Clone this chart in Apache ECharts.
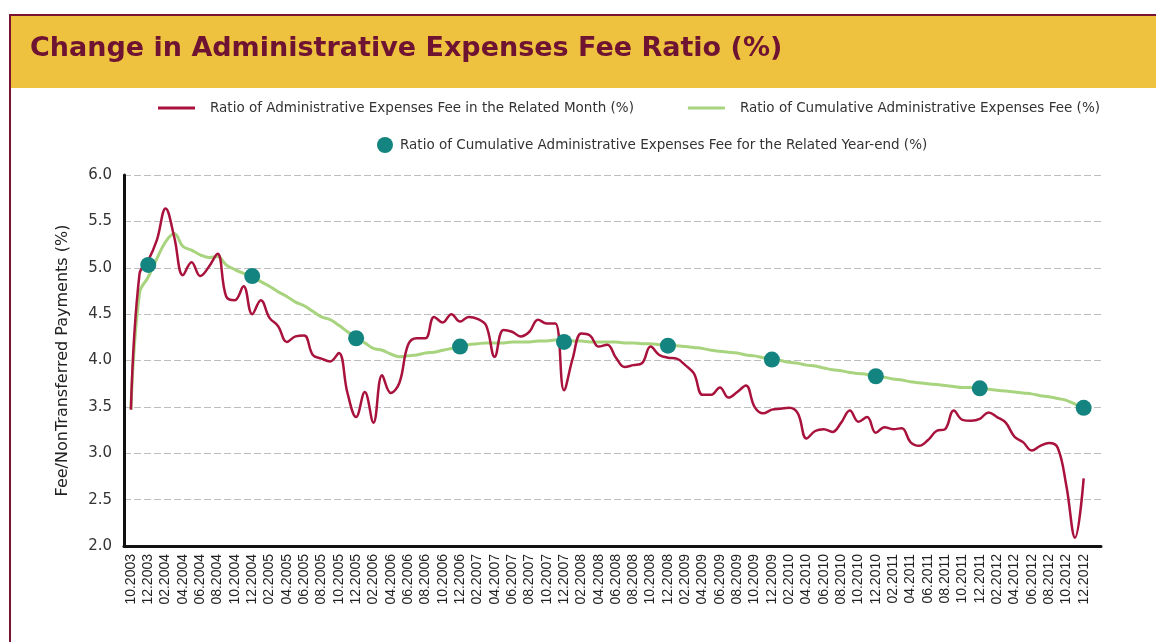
<!DOCTYPE html>
<html>
<head>
<meta charset="utf-8">
<script src="https://cdn.jsdelivr.net/npm/echarts@6/dist/echarts.min.js"></script>
<style>
html, body { margin: 0; padding: 0; background: #fff; }
#chart { width: 1156px; height: 642px; }
</style>
</head>
<body>
<div id="chart"></div>
<script>
// monthly values 10.2003 .. 12.2012
const monthlyRatio = [
  3.47, 4.94, 5.08, 5.30, 5.64, 5.33, 4.92, 5.06, 4.91, 5.01,
  5.15, 4.69, 4.65, 4.80, 4.50, 4.65, 4.46, 4.37, 4.20, 4.26,
  4.27, 4.06, 4.02, 3.99, 4.08, 3.65, 3.39, 3.66, 3.33, 3.84,
  3.65, 3.76, 4.17, 4.24, 4.24, 4.47, 4.41, 4.50, 4.42, 4.47,
  4.45, 4.38, 4.04, 4.33, 4.31, 4.26, 4.31, 4.44, 4.40, 4.40,
  3.68, 4.02, 4.29, 4.27, 4.15, 4.17, 4.03, 3.93, 3.95, 3.97,
  4.15, 4.06, 4.03, 4.02, 3.95, 3.86, 3.63, 3.63, 3.71, 3.60,
  3.66, 3.73, 3.50, 3.43, 3.47, 3.48, 3.49, 3.43, 3.16, 3.24,
  3.26, 3.23, 3.33, 3.46, 3.34, 3.39, 3.22, 3.28, 3.26, 3.27,
  3.12, 3.08, 3.14, 3.24, 3.26, 3.46, 3.36, 3.35, 3.37, 3.44,
  3.39, 3.33, 3.18, 3.12, 3.03, 3.08, 3.11, 3.06, 2.65, 2.09,
  2.73
]
const cumulativeRatio = [
  3.47, 4.73, 4.90, 5.10, 5.28, 5.37, 5.23, 5.19, 5.14, 5.11,
  5.12, 5.03, 4.98, 4.94, 4.90, 4.85, 4.80, 4.74, 4.69, 4.63,
  4.59, 4.53, 4.47, 4.44, 4.38, 4.31, 4.24, 4.19, 4.13, 4.11,
  4.07, 4.04, 4.05, 4.06, 4.08, 4.09, 4.11, 4.13, 4.15, 4.17,
  4.18, 4.19, 4.19, 4.19, 4.20, 4.20, 4.20, 4.21, 4.21, 4.22,
  4.22, 4.21, 4.21, 4.20, 4.20, 4.20, 4.20, 4.19, 4.19, 4.18,
  4.18, 4.17, 4.16, 4.16, 4.15, 4.14, 4.13, 4.11, 4.10, 4.09,
  4.08, 4.06, 4.05, 4.03, 4.02, 4.00, 3.98, 3.97, 3.95, 3.94,
  3.92, 3.90, 3.89, 3.87, 3.86, 3.85, 3.83, 3.82, 3.80, 3.79,
  3.77, 3.76, 3.75, 3.74, 3.73, 3.72, 3.71, 3.71, 3.70, 3.69,
  3.68, 3.67, 3.66, 3.65, 3.64, 3.62, 3.61, 3.59, 3.57, 3.53,
  3.49
]
// year-end points (12.2003 .. 12.2012)
const yearEndIndex = [2, 14, 26, 38, 50, 62, 74, 86, 98, 110]
const yearEndRatio = [5.03, 4.91, 4.24, 4.15, 4.20, 4.16, 4.01, 3.83, 3.70, 3.49]

const months = []
for (let i = 0; i < monthlyRatio.length; i++) {
  let m = (9 + i) % 12 + 1
  let y = 2003 + Math.floor((9 + i) / 12)
  months.push((m < 10 ? '0' : '') + m + '.' + y)
}
const labelIndex = months.map((m, i) => i).filter(i => i % 2 === 0)

const names = [
  'Ratio of Administrative Expenses Fee in the Related Month (%)',
  'Ratio of Cumulative Administrative Expenses Fee (%)',
  'Ratio of Cumulative Administrative Expenses Fee for the Related Year-end (%)'
]

const font = 'DejaVu Sans'

let myChart = echarts.init(document.getElementById('chart'))
let option = {
  animation: false,
  title: {
    text: 'Change in Administrative Expenses Fee Ratio (%)',
    left: 30,
    top: 35,
    padding: 0,
    textStyle: {
      fontFamily: font,
      fontWeight: 'bold',
      fontSize: 27,
      color: '#6E1432'
    }
  },
  graphic: [
    { type: 'rect', shape: { x: 10, y: 16, width: 1146, height: 72 }, style: { fill: '#EEC13E' }, z: -10 },
    { type: 'rect', shape: { x: 9, y: 14, width: 1147, height: 2 }, style: { fill: '#7A1232' } },
    { type: 'rect', shape: { x: 9, y: 14, width: 2, height: 628 }, style: { fill: '#7A1232' } }
  ],
  legend: [
    {
      data: [{ name: names[0], icon: 'rect' }, { name: names[1], icon: 'rect' }],
      left: 158,
      top: 101,
      padding: 0,
      itemWidth: 37,
      itemHeight: 3,
      itemGap: 54,
      textStyle: { fontFamily: font, fontSize: 13.5, color: '#333', padding: [0, 0, 0, 10] }
    },
    {
      data: [names[2]],
      left: 377,
      top: 137,
      padding: 0,
      icon: 'circle',
      itemWidth: 16,
      itemHeight: 16,
      textStyle: { fontFamily: font, fontSize: 13.5, color: '#333', padding: [0, 0, 0, 2] }
    }
  ],
  grid: {
    left: 124,
    right: 55,
    top: 175,
    bottom: 96
  },
  xAxis: {
    type: 'value',
    min: -0.8,
    max: 112,
    axisLine: { show: true, onZero: false, lineStyle: { color: '#111', width: 3 } },
    axisTick: { show: false },
    splitLine: { show: false },
    axisLabel: {
      customValues: labelIndex,
      formatter: v => months[v],
      rotate: 90,
      margin: 8,
      fontFamily: 'Liberation Sans',
      fontSize: 14,
      color: '#222'
    }
  },
  yAxis: {
    type: 'value',
    min: 2,
    max: 6,
    interval: 0.5,
    name: 'Fee/NonTransferred Payments (%)',
    nameLocation: 'middle',
    nameGap: 53,
    nameTextStyle: { fontFamily: font, fontSize: 16, color: '#222' },
    axisLine: { show: true, onZero: false, lineStyle: { color: '#111', width: 3 } },
    axisTick: { show: false },
    axisLabel: {
      formatter: v => v.toFixed(1),
      margin: 12,
      fontFamily: font,
      fontSize: 15,
      color: '#333'
    },
    splitLine: { lineStyle: { color: '#BDBDBD', width: 1, type: [7, 3] } }
  },
  series: [
    {
      name: names[1],
      type: 'line',
      data: cumulativeRatio.map((v, i) => [i, v]),
      smooth: 0.4,
      symbol: 'none',
      lineStyle: { color: '#A9D47F', width: 3 },
      itemStyle: { color: '#A9D47F' },
      z: 2
    },
    {
      name: names[0],
      type: 'line',
      data: monthlyRatio.map((v, i) => [i, v]),
      smooth: 0.4,
      symbol: 'none',
      lineStyle: { color: '#A8123C', width: 2.5 },
      itemStyle: { color: '#A8123C' },
      z: 3
    },
    {
      name: names[2],
      type: 'scatter',
      data: yearEndIndex.map((idx, k) => [idx, yearEndRatio[k]]),
      symbolSize: 16,
      itemStyle: { color: '#13847F', opacity: 1 },
      z: 4
    }
  ]
}
myChart.setOption(option)
</script>
</body>
</html>
